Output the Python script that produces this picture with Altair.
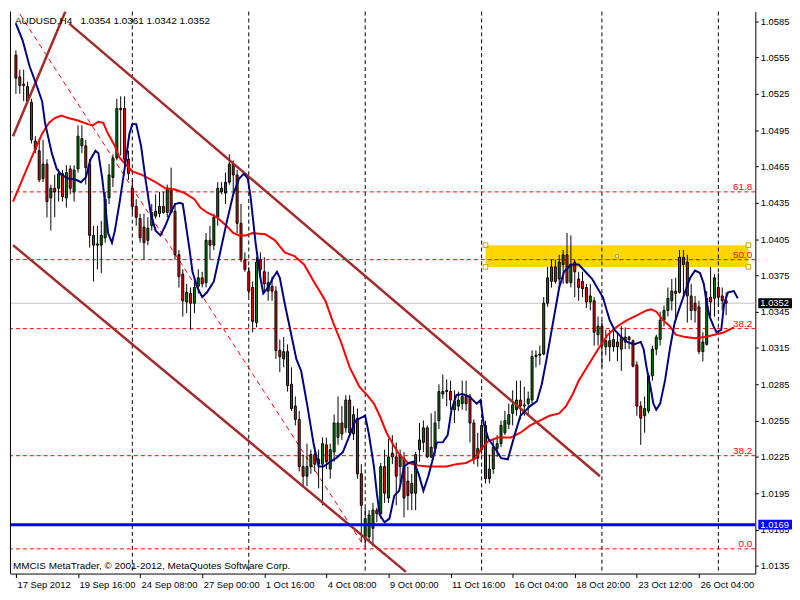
import altair as alt
import pandas as pd

W, H = 752, 567
FONT = "Liberation Sans"

# ---------------- candles (AUDUSD H4), bar index 0 = 17 Sep 2012 00:00 ----------------
bar_open = [
    1.0557, 1.0539, 1.0533, 1.0531, 1.0518, 1.0486, 1.0478, 1.0455, 1.0467, 1.0439,
    1.0447, 1.0447, 1.0459, 1.0439, 1.0463, 1.0444, 1.0463, 1.0482, 1.0482, 1.0467,
    1.0408, 1.0400, 1.0400, 1.0406, 1.0439, 1.0456, 1.0472, 1.0513, 1.0513, 1.0471,
    1.0447, 1.0432, 1.0422, 1.0415, 1.0404, 1.0416, 1.0424, 1.0426, 1.0432, 1.0427,
    1.0446, 1.0428, 1.0392, 1.0376, 1.0353, 1.0360, 1.0352, 1.0366, 1.0373, 1.0369,
    1.0404, 1.0400, 1.0423, 1.0447, 1.0443, 1.0452, 1.0467, 1.0458, 1.0418, 1.0388,
    1.0378, 1.0365, 1.0336, 1.0388, 1.0378, 1.0362, 1.0366, 1.0362, 1.0313, 1.0306,
    1.0312, 1.0285, 1.0267, 1.0256, 1.0217, 1.0209, 1.0217, 1.0227, 1.0219, 1.0219,
    1.0235, 1.0215, 1.0229, 1.0241, 1.0253, 1.0249, 1.0272, 1.0244, 1.0257, 1.0211,
    1.0157, 1.0159, 1.0166, 1.0181, 1.0178, 1.0217, 1.0191, 1.0228, 1.0225, 1.0217,
    1.0224, 1.0205, 1.0195, 1.0195, 1.0231, 1.0237, 1.0249, 1.0225, 1.0232, 1.0255,
    1.0277, 1.0279, 1.0279, 1.0264, 1.0267, 1.0269, 1.0275, 1.0275, 1.0253, 1.0224,
    1.0231, 1.0251, 1.0207, 1.0215, 1.0232, 1.0236, 1.0245, 1.0252, 1.0261, 1.0264,
    1.0272, 1.0267, 1.0269, 1.0272, 1.0308, 1.0309, 1.0310, 1.0352, 1.0370, 1.0382,
    1.0372, 1.0384, 1.0392, 1.0369, 1.0386, 1.0372, 1.0370, 1.0365, 1.0353, 1.0354,
    1.0326, 1.0333, 1.0316, 1.0321, 1.0316, 1.0320, 1.0324, 1.0320, 1.0324, 1.0321,
    1.0301, 1.0267, 1.0259, 1.0263, 1.0292, 1.0314, 1.0322, 1.0338, 1.0346, 1.0354,
    1.0362, 1.0361, 1.0390, 1.0386, 1.0358, 1.0352, 1.0349, 1.0312, 1.0318, 1.0357,
    1.0356, 1.0365, 1.0358, 1.0354,
]
bar_high = [
    1.0561, 1.0545, 1.0545, 1.0535, 1.0521, 1.0490, 1.0488, 1.0487, 1.0471, 1.0450,
    1.0458, 1.0463, 1.0462, 1.0466, 1.0466, 1.0466, 1.0499, 1.0499, 1.0487, 1.0471,
    1.0416, 1.0416, 1.0420, 1.0444, 1.0467, 1.0475, 1.0521, 1.0523, 1.0523, 1.0478,
    1.0454, 1.0438, 1.0426, 1.0426, 1.0423, 1.0434, 1.0442, 1.0444, 1.0444, 1.0450,
    1.0464, 1.0434, 1.0396, 1.0380, 1.0368, 1.0365, 1.0372, 1.0380, 1.0378, 1.0410,
    1.0416, 1.0426, 1.0452, 1.0452, 1.0460, 1.0475, 1.0470, 1.0462, 1.0434, 1.0394,
    1.0382, 1.0370, 1.0390, 1.0394, 1.0390, 1.0378, 1.0374, 1.0366, 1.0322, 1.0324,
    1.0318, 1.0299, 1.0275, 1.0263, 1.0227, 1.0236, 1.0231, 1.0233, 1.0231, 1.0241,
    1.0241, 1.0236, 1.0260, 1.0275, 1.0267, 1.0276, 1.0276, 1.0267, 1.0265, 1.0219,
    1.0183, 1.0181, 1.0187, 1.0183, 1.0220, 1.0231, 1.0240, 1.0243, 1.0237, 1.0231,
    1.0229, 1.0217, 1.0211, 1.0229, 1.0253, 1.0255, 1.0251, 1.0261, 1.0263, 1.0285,
    1.0293, 1.0289, 1.0288, 1.0280, 1.0279, 1.0288, 1.0288, 1.0277, 1.0256, 1.0245,
    1.0256, 1.0255, 1.0227, 1.0239, 1.0243, 1.0255, 1.0263, 1.0269, 1.0280, 1.0288,
    1.0288, 1.0283, 1.0279, 1.0313, 1.0313, 1.0317, 1.0357, 1.0382, 1.0388, 1.0388,
    1.0392, 1.0396, 1.0410, 1.0408, 1.0388, 1.0378, 1.0378, 1.0368, 1.0368, 1.0357,
    1.0341, 1.0338, 1.0330, 1.0330, 1.0333, 1.0328, 1.0333, 1.0332, 1.0325, 1.0322,
    1.0304, 1.0271, 1.0275, 1.0293, 1.0317, 1.0326, 1.0345, 1.0350, 1.0365, 1.0372,
    1.0373, 1.0396, 1.0396, 1.0392, 1.0368, 1.0358, 1.0354, 1.0328, 1.0362, 1.0382,
    1.0376, 1.0377, 1.0365, 1.0361,
]
bar_low = [
    1.0525, 1.0525, 1.0519, 1.0517, 1.0484, 1.0476, 1.0452, 1.0452, 1.0423, 1.0412,
    1.0423, 1.0436, 1.0436, 1.0431, 1.0442, 1.0436, 1.0460, 1.0476, 1.0450, 1.0398,
    1.0370, 1.0380, 1.0377, 1.0402, 1.0434, 1.0448, 1.0470, 1.0474, 1.0462, 1.0454,
    1.0426, 1.0416, 1.0402, 1.0388, 1.0400, 1.0412, 1.0422, 1.0423, 1.0426, 1.0423,
    1.0426, 1.0388, 1.0365, 1.0341, 1.0344, 1.0330, 1.0344, 1.0360, 1.0365, 1.0365,
    1.0388, 1.0396, 1.0416, 1.0442, 1.0434, 1.0450, 1.0443, 1.0410, 1.0386, 1.0378,
    1.0358, 1.0328, 1.0332, 1.0374, 1.0362, 1.0354, 1.0354, 1.0306, 1.0295, 1.0299,
    1.0279, 1.0263, 1.0251, 1.0213, 1.0201, 1.0201, 1.0211, 1.0213, 1.0199, 1.0185,
    1.0215, 1.0207, 1.0221, 1.0235, 1.0239, 1.0245, 1.0243, 1.0239, 1.0207, 1.0155,
    1.0151, 1.0155, 1.0151, 1.0171, 1.0174, 1.0187, 1.0187, 1.0219, 1.0185, 1.0203,
    1.0175, 1.0181, 1.0181, 1.0181, 1.0221, 1.0229, 1.0224, 1.0224, 1.0227, 1.0248,
    1.0273, 1.0267, 1.0264, 1.0253, 1.0263, 1.0264, 1.0263, 1.0237, 1.0219, 1.0217,
    1.0227, 1.0203, 1.0203, 1.0211, 1.0225, 1.0233, 1.0243, 1.0248, 1.0251, 1.0259,
    1.0256, 1.0259, 1.0260, 1.0269, 1.0299, 1.0301, 1.0309, 1.0349, 1.0365, 1.0368,
    1.0365, 1.0368, 1.0368, 1.0365, 1.0357, 1.0354, 1.0357, 1.0348, 1.0346, 1.0317,
    1.0317, 1.0299, 1.0309, 1.0304, 1.0312, 1.0304, 1.0296, 1.0314, 1.0314, 1.0299,
    1.0259, 1.0235, 1.0245, 1.0261, 1.0288, 1.0309, 1.0317, 1.0333, 1.0341, 1.0346,
    1.0336, 1.0360, 1.0357, 1.0336, 1.0338, 1.0336, 1.0310, 1.0304, 1.0317, 1.0341,
    1.0341, 1.0349, 1.0346, 1.0342,
]
bar_close = [
    1.0538, 1.0532, 1.0532, 1.0519, 1.0487, 1.0479, 1.0454, 1.0467, 1.0436, 1.0447,
    1.0444, 1.0459, 1.0440, 1.0460, 1.0447, 1.0462, 1.0490, 1.0488, 1.0464, 1.0408,
    1.0400, 1.0401, 1.0408, 1.0438, 1.0458, 1.0472, 1.0513, 1.0512, 1.0471, 1.0459,
    1.0432, 1.0423, 1.0406, 1.0402, 1.0414, 1.0427, 1.0428, 1.0432, 1.0427, 1.0447,
    1.0427, 1.0392, 1.0374, 1.0354, 1.0361, 1.0352, 1.0365, 1.0373, 1.0368, 1.0404,
    1.0400, 1.0423, 1.0447, 1.0444, 1.0452, 1.0467, 1.0458, 1.0418, 1.0388, 1.0380,
    1.0362, 1.0337, 1.0386, 1.0380, 1.0368, 1.0369, 1.0362, 1.0313, 1.0308, 1.0312,
    1.0284, 1.0265, 1.0256, 1.0217, 1.0209, 1.0217, 1.0227, 1.0219, 1.0223, 1.0236,
    1.0221, 1.0231, 1.0253, 1.0253, 1.0244, 1.0272, 1.0245, 1.0260, 1.0211, 1.0185,
    1.0174, 1.0177, 1.0181, 1.0178, 1.0217, 1.0195, 1.0225, 1.0225, 1.0209, 1.0227,
    1.0191, 1.0193, 1.0203, 1.0227, 1.0239, 1.0249, 1.0225, 1.0233, 1.0253, 1.0279,
    1.0279, 1.0280, 1.0272, 1.0271, 1.0272, 1.0275, 1.0269, 1.0253, 1.0223, 1.0232,
    1.0251, 1.0207, 1.0215, 1.0233, 1.0236, 1.0251, 1.0255, 1.0260, 1.0268, 1.0272,
    1.0267, 1.0268, 1.0273, 1.0308, 1.0309, 1.0310, 1.0352, 1.0373, 1.0382, 1.0370,
    1.0386, 1.0392, 1.0369, 1.0384, 1.0378, 1.0365, 1.0364, 1.0353, 1.0358, 1.0328,
    1.0333, 1.0317, 1.0321, 1.0316, 1.0322, 1.0316, 1.0314, 1.0324, 1.0322, 1.0300,
    1.0267, 1.0257, 1.0265, 1.0292, 1.0314, 1.0324, 1.0338, 1.0346, 1.0356, 1.0362,
    1.0360, 1.0390, 1.0384, 1.0358, 1.0346, 1.0346, 1.0312, 1.0320, 1.0356, 1.0353,
    1.0373, 1.0357, 1.0354, 1.0352,
]

# ---------------- moving averages ----------------
blue_ma_bar = [
    0.0, 1.75, 3.5, 5.0, 6.75, 7.5, 9.25, 10.5, 11.75, 13.5,
    15.5, 16.75, 18.0, 19.25, 20.5, 21.25, 22.25, 23.0, 23.75, 24.75,
    25.5, 26.75, 28.0, 29.25, 30.0, 31.0, 32.25, 33.5, 34.75, 36.0,
    37.25, 38.5, 39.75, 41.0, 42.25, 43.0, 43.75, 44.75, 45.5, 46.75,
    48.0, 49.25, 51.0, 52.5, 54.25, 56.0, 57.5, 58.75, 59.75, 60.5,
    61.75, 63.0, 63.75, 65.0, 66.25, 67.25, 68.0, 69.25, 70.5, 72.25,
    73.5, 75.0, 76.75, 78.0, 79.25, 81.0, 82.5, 84.25, 86.0, 87.5,
    88.75, 90.0, 91.0, 92.25, 93.0, 93.75, 95.0, 96.25, 97.5, 98.75,
    100.0, 101.25, 102.5, 103.75, 105.0, 106.25, 107.25, 108.5, 110.0, 111.25,
    112.25, 113.5, 115.0, 116.75, 118.75, 119.75, 120.5, 121.75, 123.5, 125.0,
    126.75, 128.5, 130.0, 132.5, 134.25, 135.5, 136.75, 138.5, 140.0, 141.25,
    143.0, 145.0, 146.75, 148.5, 149.75, 151.25, 152.25, 153.0, 154.25, 156.0,
    157.5, 159.25, 161.0, 161.75, 162.5, 163.5, 164.25, 165.0, 166.0, 167.25,
    168.5, 169.75, 171.0, 172.5, 173.75, 175.0, 176.25, 177.25, 178.0, 178.75,
    179.75, 180.5, 181.75, 182.5, 183.5, 185.0, 186.0,
]
blue_ma_price = [
    1.0583, 1.0569, 1.0548, 1.0535, 1.0519, 1.0501, 1.0476, 1.0463, 1.0458, 1.0455,
    1.0454, 1.0452, 1.0456, 1.0471, 1.0478, 1.0476, 1.0455, 1.0434, 1.0410, 1.0402,
    1.0412, 1.0436, 1.0463, 1.0492, 1.0500, 1.0500, 1.0482, 1.0452, 1.0426, 1.0412,
    1.0408, 1.0416, 1.0426, 1.0434, 1.0435, 1.0434, 1.0418, 1.0396, 1.0378, 1.0365,
    1.0357, 1.0361, 1.0370, 1.0392, 1.0418, 1.0442, 1.0455, 1.0459, 1.0455, 1.0439,
    1.0402, 1.0373, 1.0360, 1.0365, 1.0373, 1.0378, 1.0373, 1.0352, 1.0333, 1.0306,
    1.0296, 1.0269, 1.0235, 1.0217, 1.0217, 1.0221, 1.0224, 1.0229, 1.0243, 1.0255,
    1.0257, 1.0259, 1.0243, 1.0217, 1.0195, 1.0177, 1.0171, 1.0174, 1.0193, 1.0197,
    1.0217, 1.0220, 1.0221, 1.0211, 1.0197, 1.0209, 1.0221, 1.0237, 1.0237, 1.0243,
    1.0264, 1.0276, 1.0277, 1.0275, 1.0269, 1.0272, 1.0253, 1.0240, 1.0232, 1.0224,
    1.0223, 1.0243, 1.0259, 1.0267, 1.0271, 1.0285, 1.0306, 1.0338, 1.0365, 1.0378,
    1.0384, 1.0384, 1.0378, 1.0372, 1.0365, 1.0357, 1.0346, 1.0338, 1.0330, 1.0324,
    1.0320, 1.0318, 1.0320, 1.0314, 1.0299, 1.0283, 1.0269, 1.0264, 1.0269, 1.0288,
    1.0314, 1.0336, 1.0348, 1.0362, 1.0373, 1.0379, 1.0377, 1.0368, 1.0352, 1.0341,
    1.0333, 1.0328, 1.0330, 1.0352, 1.0361, 1.0362, 1.0356,
]
red_ma_bar = [
    -0.75, 1.75, 4.25, 6.75, 8.5, 10.0, 11.75, 13.5, 16.0, 18.5,
    19.75, 21.25, 22.5, 23.75, 25.5, 26.75, 28.5, 30.0, 32.5, 36.0,
    38.5, 41.0, 43.5, 46.0, 47.5, 49.25, 51.75, 54.25, 56.0, 57.5,
    59.25, 61.0, 64.25, 66.75, 69.25, 71.75, 74.25, 76.75, 79.75, 81.75,
    83.75, 86.0, 88.5, 90.5, 92.25, 93.75, 95.5, 97.25, 98.75, 101.0,
    103.5, 106.0, 108.5, 111.0, 113.5, 116.0, 118.5, 120.0, 121.75, 124.25,
    127.5, 130.0, 132.5, 135.0, 137.5, 140.0, 141.75, 143.5, 145.0, 147.5,
    150.0, 152.5, 155.0, 157.5, 160.0, 162.5, 163.75, 165.0, 166.75, 168.5,
    170.0, 172.5, 175.0, 177.5, 180.0, 182.5, 185.0,
]
red_ma_price = [
    1.0436, 1.0455, 1.0474, 1.0492, 1.0501, 1.0505, 1.0507, 1.0505, 1.0503, 1.0500,
    1.0499, 1.0502, 1.0501, 1.0492, 1.0482, 1.0472, 1.0466, 1.0461, 1.0458, 1.0452,
    1.0447, 1.0446, 1.0443, 1.0438, 1.0431, 1.0427, 1.0423, 1.0416, 1.0410, 1.0408,
    1.0408, 1.0410, 1.0409, 1.0404, 1.0394, 1.0391, 1.0384, 1.0370, 1.0354, 1.0336,
    1.0320, 1.0299, 1.0283, 1.0276, 1.0269, 1.0259, 1.0245, 1.0235, 1.0227, 1.0220,
    1.0218, 1.0217, 1.0217, 1.0217, 1.0219, 1.0220, 1.0224, 1.0232, 1.0238, 1.0241,
    1.0241, 1.0245, 1.0251, 1.0255, 1.0259, 1.0261, 1.0267, 1.0277, 1.0288, 1.0301,
    1.0314, 1.0326, 1.0333, 1.0338, 1.0342, 1.0346, 1.0347, 1.0345, 1.0338, 1.0333,
    1.0326, 1.0324, 1.0323, 1.0324, 1.0326, 1.0328, 1.0332,
]

# ---------------- drawn objects ----------------
trend_bar0 = [13.75, -0.75, -0.75]
trend_p0 = [1.0583, 1.0400, 1.0490]
trend_bar1 = [150.5, 100.5, 12.75]
trend_p1 = [1.0209, 1.0130, 1.0593]

fib_trend_bar = [1.0, 89.75]
fib_trend_price = [1.0591, 1.0151]
fib_level_price = [1.0444, 1.0388, 1.0331, 1.0226, 1.0149]
fib_level_text = ["61.8", "50.0", "38.2", "38.2", "0.0"]

zone_bar = [121.0, 188.75]
zone_price = [1.0400, 1.0382]

grid_bars = [30, 60, 90, 120, 151, 181]
current_price = 1.0352
support_price = 1.0169
box_price = [1.0352, 1.0169]
box_text = ["1.0352", "1.0169"]
box_color = ["#000000", "#0000FF"]

date_label_bars = [0, 16, 32, 48, 64, 80, 96, 112, 128, 144, 160, 176]
date_labels = ["17 Sep 2012", "19 Sep 16:00", "24 Sep 08:00", "27 Sep 00:00",
               "1 Oct 16:00", "4 Oct 08:00", "9 Oct 00:00", "11 Oct 16:00",
               "16 Oct 04:00", "18 Oct 20:00", "23 Oct 12:00", "26 Oct 04:00"]
price_ticks = [1.0585, 1.0555, 1.0525, 1.0495, 1.0465, 1.0435, 1.0405, 1.0375,
               1.0345, 1.0315, 1.0285, 1.0255, 1.0225, 1.0195, 1.0165, 1.0135]

title_text = "AUDUSD,H4\u00a0\u00a0 1.0354 1.0361 1.0342 1.0352"
footer_text = "MMCIS MetaTrader, \u00a9 2001-2012, MetaQuotes Software Corp."

# ---------------- tables ----------------
bars = pd.DataFrame({"i": list(range(len(bar_close))), "o": bar_open, "h": bar_high,
                     "l": bar_low, "c": bar_close})
blue_df = pd.DataFrame({"bar": blue_ma_bar, "p": blue_ma_price})
red_df = pd.DataFrame({"bar": red_ma_bar, "p": red_ma_price})
trend_df = pd.DataFrame({"b0": trend_bar0, "p0": trend_p0, "b1": trend_bar1, "p1": trend_p1})
fibt_df = pd.DataFrame({"b0": [fib_trend_bar[0]], "p0": [fib_trend_price[0]],
                        "b1": [fib_trend_bar[1]], "p1": [fib_trend_price[1]]})
fib_df = pd.DataFrame({"p": fib_level_price, "t": fib_level_text})
zone_df = pd.DataFrame({"b0": [zone_bar[0]], "b1": [zone_bar[1]],
                        "p0": [zone_price[0]], "p1": [zone_price[1]]})
handle_df = pd.DataFrame({
    "bar": [zone_bar[0], zone_bar[0], zone_bar[1], zone_bar[1], (zone_bar[0] + zone_bar[1]) / 2],
    "p": [zone_price[0], zone_price[1], zone_price[0], zone_price[1], (zone_price[0] + zone_price[1]) / 2],
    "s": [22, 22, 22, 22, 10],
})
grid_df = pd.DataFrame({"bar": grid_bars})
cur_df = pd.DataFrame({"p": [current_price]})
sup_df = pd.DataFrame({"p": [support_price]})
box_df = pd.DataFrame({"p": box_price, "t": box_text, "col": box_color})
one = pd.DataFrame({"a": [0]})

# ---------------- scales / axes ----------------
xs = alt.Scale(domain=[-0.25, 189.25], nice=False, zero=False)
ys = alt.Scale(domain=[1.01286, 1.0593], nice=False, zero=False)

label_expr = "[" + ",".join("'%s'" % s for s in date_labels) + "][round(datum.value / 16)]"
x_axis = alt.Axis(values=date_label_bars, labelExpr=label_expr, orient="bottom", title=None,
                  grid=False, tickSize=4, tickColor="black", domainColor="black",
                  labelColor="black", labelFont=FONT, labelFontSize=9.5, labelAlign="left",
                  labelBaseline="top", labelPadding=2, labelFlush=False, labelOverlap=False,
                  labelOffset=1)
y_axis = alt.Axis(values=price_ticks, format=".4f", orient="right", title=None, grid=False,
                  tickSize=3, tickColor="black", domainColor="black", labelColor="black",
                  labelFont=FONT, labelFontSize=9.5, labelAlign="left", labelBaseline="middle",
                  labelPadding=2, labelFlush=False, labelOverlap=False)


def X(f):
    return alt.X(f + ":Q", scale=xs, axis=x_axis)


def Y(f):
    return alt.Y(f + ":Q", scale=ys, axis=y_axis)


zone = alt.Chart(zone_df).mark_rect(color="#FFD700").encode(
    x=X("b0"), x2=alt.X2("b1"), y=Y("p0"), y2=alt.Y2("p1"))

grid = alt.Chart(grid_df).mark_rule(color="black", strokeDash=[4, 3], strokeWidth=1).encode(
    x=X("bar"))

fib_lines = alt.Chart(fib_df).mark_rule(color="#FF0000", strokeDash=[4, 3], strokeWidth=1).encode(
    y=Y("p"))

cur_line = alt.Chart(cur_df).mark_rule(color="#C0C0C0", strokeWidth=1).encode(y=Y("p"))

fib_diag = alt.Chart(fibt_df).mark_rule(color="#FF0000", strokeDash=[5, 4], strokeWidth=1,
                                        clip=True).encode(
    x=X("b0"), x2=alt.X2("b1"), y=Y("p0"), y2=alt.Y2("p1"))

wicks = alt.Chart(bars).mark_rule(color="black", strokeWidth=1).encode(
    x=X("i"), y=Y("l"), y2=alt.Y2("h"))

bodies = alt.Chart(bars).mark_bar(size=2, stroke="black", strokeWidth=1).encode(
    x=X("i"), y=Y("o"), y2=alt.Y2("c"),
    fill=alt.when(alt.datum.c >= alt.datum.o).then(alt.value("#008000")).otherwise(alt.value("#FF0000")))

trends = alt.Chart(trend_df).mark_rule(color="#A52A2A", strokeWidth=2.5, clip=True).encode(
    x=X("b0"), x2=alt.X2("b1"), y=Y("p0"), y2=alt.Y2("p1"))

red_ma = alt.Chart(red_df).mark_line(color="#FF0000", strokeWidth=2, clip=True).encode(
    x=X("bar"), y=Y("p"))

blue_ma = alt.Chart(blue_df).mark_line(color="#000080", strokeWidth=2, clip=True).encode(
    x=X("bar"), y=Y("p"))

support = alt.Chart(sup_df).mark_rule(color="#0000FF", strokeWidth=3).encode(y=Y("p"))

handles = alt.Chart(handle_df).mark_point(shape="square", filled=True, fill="white",
                                          stroke="#C8A000", strokeWidth=1, opacity=1).encode(
    x=X("bar"), y=Y("p"), size=alt.Size("s:Q", scale=None, legend=None))

fib_text = alt.Chart(fib_df).mark_text(color="#FF0000", align="right", baseline="alphabetic",
                                       dy=-2, font=FONT, fontSize=10).encode(
    x=alt.value(W - 3), y=Y("p"), text="t:N")

title = alt.Chart(one).mark_text(align="left", baseline="middle", font=FONT, fontSize=10,
                                 color="black").encode(
    x=alt.value(5), y=alt.value(10), text=alt.value(title_text))

footer = alt.Chart(one).mark_text(align="left", baseline="middle", font=FONT, fontSize=10,
                                  color="black").encode(
    x=alt.value(3), y=alt.value(H - 8), text=alt.value(footer_text))

boxes = alt.Chart(box_df).mark_rect(yOffset=-5, y2Offset=5).encode(
    x=alt.value(W + 3), x2=alt.value(W + 37), y=Y("p"), y2=alt.Y2("p"),
    fill=alt.Color("col:N", scale=None, legend=None))

box_labels = alt.Chart(box_df).mark_text(color="white", align="left", baseline="middle",
                                         font=FONT, fontSize=9.5).encode(
    x=alt.value(W + 5), y=Y("p"), text="t:N")

left_border = alt.Chart(one).mark_rule(color="black", strokeWidth=1).encode(
    x=alt.value(0.5), y=alt.value(0), y2=alt.value(H))

chart = alt.layer(
    zone, grid, fib_lines, cur_line, fib_diag, wicks, bodies, red_ma, trends, blue_ma,
    support, handles, fib_text, title, footer, boxes, box_labels, left_border
).properties(
    width=W, height=H, padding={"left": 0, "top": 0, "right": 0, "bottom": 0},
    background="white"
).configure_view(stroke=None)

chart.save("out.html", embed_options={"renderer": "svg", "actions": False})
